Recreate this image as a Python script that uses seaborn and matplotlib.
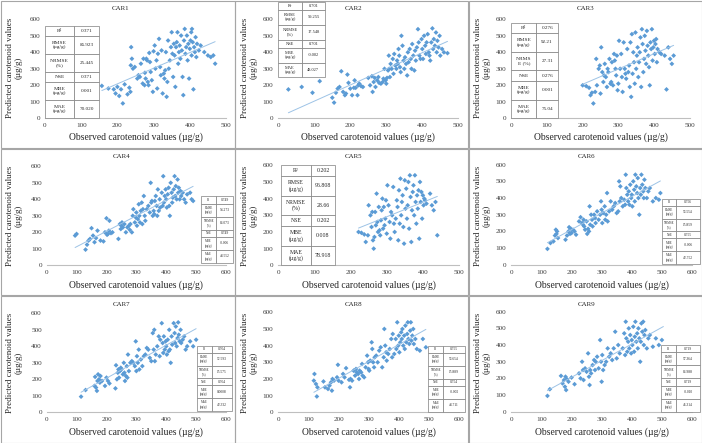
import numpy as np
import matplotlib
matplotlib.use("Agg")
import matplotlib.pyplot as plt
from matplotlib.patches import Rectangle
import seaborn as sns

# ~~~~~~~~~~~~~~~~~~~~~~~~~~~~~~~~ data ~~~~~~~~~~~~~~~~~~~~~~~~~~~~~~~~ #
car1_x = [157, 175, 190, 195, 200, 205, 210, 215, 220, 228, 233, 236, 237, 238, 240, 243, 248, 255, 258, 262,
          265, 270, 272, 275, 276, 278, 280, 282, 284, 286, 288, 290, 292, 295, 298, 300, 303, 305, 308, 310,
          312, 315, 318, 320, 322, 325, 328, 330, 332, 334, 336, 338, 340, 342, 345, 348, 350, 352, 354, 356,
          358, 360, 362, 364, 366, 368, 370, 372, 374, 376, 378, 380, 382, 384, 386, 388, 390, 392, 394, 396,
          398, 400, 402, 404, 405, 406, 408, 410, 412, 414, 416, 418, 420, 425, 430, 440, 450, 458, 465, 470]
car1_y = [196, 180, 175, 150, 190, 135, 175, 90, 205, 145, 185, 160, 320, 430, 360, 300, 310, 240, 260, 250,
          330, 210, 360, 200, 275, 240, 360, 350, 220, 200, 395, 340, 280, 230, 160, 405, 440, 300, 350, 180,
          390, 480, 310, 260, 410, 150, 270, 240, 290, 400, 130, 220, 470, 300, 350, 430, 520, 390, 250, 450,
          380, 190, 430, 460, 520, 330, 400, 440, 360, 500, 410, 250, 140, 470, 540, 390, 430, 500, 350, 450,
          240, 420, 470, 520, 380, 540, 460, 175, 430, 400, 490, 370, 450, 410, 440, 400, 380, 370, 380, 330]

car2_x = [28, 65, 95, 115, 150, 155, 160, 165, 170, 175, 180, 185, 188, 192, 195, 200, 205, 210, 212, 215,
          220, 222, 225, 230, 235, 250, 255, 260, 262, 265, 268, 270, 275, 278, 280, 285, 290, 292, 295, 298,
          300, 302, 305, 307, 308, 310, 312, 315, 318, 320, 322, 325, 328, 330, 332, 334, 336, 338, 340, 342,
          345, 348, 350, 352, 355, 358, 360, 362, 365, 368, 370, 372, 375, 378, 380, 382, 385, 388, 390, 392,
          395, 398, 400, 402, 405, 408, 410, 412, 415, 418, 420, 422, 425, 428, 430, 432, 435, 438, 440, 442,
          445, 448, 450, 455, 460, 470]
car2_y = [175, 190, 155, 225, 125, 95, 155, 180, 190, 285, 160, 140, 150, 265, 215, 180, 140, 185, 230, 185,
          140, 200, 210, 195, 190, 245, 200, 255, 160, 220, 245, 190, 230, 250, 215, 210, 220, 240, 300, 230,
          210, 245, 290, 380, 300, 250, 330, 300, 360, 270, 390, 320, 300, 350, 330, 420, 380, 310, 280, 500,
          440, 350, 300, 370, 330, 260, 400, 340, 420, 360, 300, 450, 380, 290, 410, 350, 430, 540, 460, 380,
          360, 480, 420, 360, 500, 440, 390, 460, 510, 400, 380, 350, 460, 545, 420, 480, 440, 520, 400, 470,
          430, 500, 380, 420, 400, 395]

car3_x = [200, 210, 218, 222, 226, 230, 235, 238, 240, 245, 248, 250, 252, 255, 258, 260, 262, 265, 268, 270,
          272, 275, 278, 280, 282, 285, 288, 290, 292, 294, 296, 298, 300, 302, 305, 308, 310, 312, 315, 318,
          320, 322, 325, 328, 330, 332, 334, 336, 338, 340, 342, 344, 346, 348, 350, 352, 354, 356, 358, 360,
          362, 364, 366, 368, 370, 372, 374, 376, 378, 380, 382, 384, 386, 388, 390, 392, 394, 396, 398, 400,
          402, 404, 406, 408, 410, 415, 420, 430, 435, 440, 445, 450, 455]
car3_y = [200, 195, 185, 140, 155, 90, 160, 360, 200, 300, 320, 150, 430, 280, 220, 260, 330, 250, 190, 300,
          280, 360, 210, 220, 340, 200, 390, 350, 300, 260, 380, 170, 210, 470, 300, 390, 250, 160, 460, 300,
          270, 240, 420, 280, 320, 190, 460, 130, 510, 270, 400, 340, 210, 520, 300, 380, 430, 250, 340, 400,
          490, 190, 540, 450, 280, 360, 500, 410, 330, 530, 440, 380, 310, 200, 460, 420, 540, 350, 430, 470,
          390, 450, 480, 340, 420, 400, 390, 380, 175, 430, 360, 330, 380]

car4_x = [95, 100, 130, 135, 140, 145, 150, 155, 160, 165, 170, 180, 190, 195, 200, 202, 205, 208, 210, 215,
          220, 240, 245, 248, 250, 252, 255, 260, 265, 270, 275, 278, 280, 285, 288, 290, 295, 298, 300, 302,
          305, 308, 310, 312, 315, 318, 320, 322, 325, 328, 330, 335, 340, 345, 348, 350, 352, 355, 358, 360,
          362, 365, 368, 370, 372, 375, 378, 380, 385, 388, 390, 392, 395, 398, 400, 402, 405, 408, 410, 412,
          415, 418, 420, 422, 425, 428, 430, 432, 435, 438, 440, 442, 445, 448, 450, 455, 460, 465, 470, 480,
          485, 490]
car4_y = [180, 190, 95, 125, 150, 160, 225, 180, 140, 165, 210, 150, 145, 200, 285, 185, 190, 210, 270, 195,
          200, 160, 250, 220, 240, 260, 230, 250, 200, 230, 240, 215, 250, 200, 300, 340, 260, 290, 320, 240,
          280, 370, 300, 260, 330, 380, 250, 340, 420, 300, 270, 340, 360, 320, 500, 380, 390, 300, 330, 310,
          390, 420, 360, 300, 460, 330, 400, 350, 440, 360, 540, 380, 420, 460, 400, 350, 430, 470, 360, 300,
          500, 440, 380, 410, 460, 540, 420, 480, 400, 520, 440, 470, 400, 450, 420, 440, 400, 380, 430, 440,
          400, 390]

car5_x = [222, 230, 238, 242, 248, 250, 255, 258, 260, 262, 264, 266, 268, 270, 272, 274, 276, 278, 280, 282,
          284, 286, 288, 290, 292, 294, 296, 298, 300, 302, 305, 308, 310, 312, 315, 318, 320, 322, 325, 328,
          330, 332, 334, 336, 338, 340, 342, 344, 346, 348, 350, 352, 354, 356, 358, 360, 362, 364, 366, 368,
          370, 372, 374, 376, 378, 380, 382, 384, 386, 388, 390, 392, 394, 396, 398, 400, 402, 404, 406, 410,
          420, 425, 430, 435, 440]
car5_y = [200, 195, 185, 140, 180, 360, 300, 230, 320, 150, 100, 170, 320, 240, 430, 260, 200, 350, 210, 180,
          270, 330, 400, 220, 350, 240, 280, 390, 190, 480, 360, 260, 160, 320, 300, 470, 250, 200, 280, 390,
          350, 150, 450, 250, 520, 300, 380, 420, 230, 130, 510, 340, 460, 280, 360, 500, 220, 540, 410, 140,
          330, 440, 480, 300, 540, 380, 250, 420, 340, 450, 160, 500, 380, 440, 280, 420, 360, 400, 390, 370,
          430, 360, 330, 380, 180]

car6_x = [120, 130, 140, 145, 148, 150, 152, 155, 180, 185, 190, 192, 195, 198, 200, 205, 210, 215, 225, 230,
          235, 238, 240, 242, 245, 250, 252, 255, 258, 260, 262, 265, 268, 270, 275, 278, 280, 285, 290, 295,
          298, 300, 302, 305, 310, 312, 315, 318, 320, 325, 330, 335, 340, 345, 350, 355, 358, 360, 362, 365,
          370, 375, 378, 380, 382, 385, 388, 390, 392, 395, 398, 400, 402, 405, 408, 410, 412, 415, 418, 420,
          422, 425, 428, 430, 432, 435, 438, 440, 442, 445, 450, 455, 460, 470, 480, 490, 495]
car6_y = [95, 130, 140, 175, 210, 185, 200, 160, 150, 175, 200, 225, 185, 215, 190, 210, 200, 180, 260, 285,
          250, 240, 270, 230, 210, 260, 185, 215, 200, 350, 240, 300, 270, 230, 300, 280, 250, 320, 270, 300,
          380, 330, 250, 310, 350, 270, 300, 430, 260, 320, 380, 330, 350, 370, 310, 320, 500, 380, 470, 400,
          350, 390, 360, 540, 460, 420, 380, 440, 360, 480, 400, 420, 350, 500, 450, 380, 540, 470, 430, 520,
          400, 300, 460, 420, 540, 480, 440, 400, 510, 460, 400, 440, 460, 380, 400, 390, 430]

car7_x = [115, 130, 160, 162, 165, 168, 170, 172, 175, 178, 180, 185, 195, 200, 205, 210, 230, 232, 235, 238,
          240, 242, 245, 248, 250, 255, 258, 260, 262, 265, 268, 270, 272, 275, 280, 285, 290, 295, 298, 300,
          302, 305, 308, 310, 315, 320, 325, 330, 335, 340, 345, 350, 355, 358, 360, 362, 365, 370, 375, 378,
          380, 385, 388, 390, 392, 395, 398, 400, 402, 405, 408, 410, 412, 415, 418, 420, 425, 428, 430, 432,
          435, 438, 440, 442, 445, 448, 450, 455, 460, 465, 470, 480, 490, 500]
car7_y = [95, 135, 160, 215, 150, 130, 190, 230, 200, 180, 220, 190, 160, 210, 190, 175, 145, 285, 200, 240,
          260, 210, 250, 270, 260, 230, 300, 240, 190, 220, 280, 210, 350, 250, 300, 310, 300, 280, 430, 250,
          340, 300, 380, 260, 320, 280, 340, 350, 390, 380, 330, 310, 480, 380, 500, 310, 350, 400, 460, 340,
          440, 540, 420, 360, 460, 380, 430, 400, 350, 440, 370, 500, 380, 300, 460, 410, 540, 480, 420, 520,
          400, 450, 545, 470, 430, 500, 420, 440, 460, 380, 400, 430, 400, 440]

car8_x = [118, 120, 125, 128, 130, 150, 155, 165, 170, 175, 178, 180, 185, 195, 198, 200, 210, 215, 220, 225,
          235, 238, 240, 245, 250, 255, 258, 260, 265, 268, 270, 275, 278, 280, 285, 290, 295, 298, 300, 302,
          305, 310, 312, 315, 318, 320, 325, 330, 335, 340, 345, 350, 352, 355, 358, 360, 365, 370, 375, 378,
          380, 385, 390, 392, 395, 398, 400, 402, 405, 408, 410, 412, 415, 418, 420, 422, 425, 428, 430, 432,
          435, 438, 440, 442, 445, 448, 450, 455, 460, 470, 480, 490]
car8_y = [190, 230, 170, 95, 150, 185, 150, 140, 160, 180, 130, 200, 190, 210, 285, 190, 180, 230, 210, 265,
          195, 150, 200, 190, 250, 220, 260, 240, 230, 200, 250, 240, 290, 220, 210, 270, 340, 300, 260, 250,
          310, 420, 380, 300, 270, 330, 340, 300, 370, 390, 270, 330, 500, 400, 360, 310, 350, 380, 440, 330,
          470, 350, 440, 380, 540, 400, 460, 360, 420, 480, 440, 500, 400, 460, 380, 520, 420, 470, 540, 440,
          410, 490, 540, 430, 460, 500, 410, 440, 380, 370, 440, 390]

car9_x = [120, 128, 165, 170, 175, 178, 180, 182, 185, 190, 200, 210, 225, 230, 235, 238, 240, 245, 250, 255,
          258, 260, 262, 265, 270, 275, 278, 280, 285, 290, 295, 298, 300, 302, 305, 310, 315, 320, 325, 330,
          335, 340, 345, 350, 355, 360, 370, 375, 378, 380, 382, 385, 388, 390, 392, 395, 398, 400, 402, 405,
          408, 410, 412, 415, 418, 420, 422, 425, 428, 430, 432, 435, 438, 440, 442, 445, 450, 455, 460, 470,
          480, 490, 500, 505]
car9_y = [95, 135, 215, 170, 190, 150, 210, 130, 195, 180, 205, 165, 230, 200, 300, 250, 190, 260, 240, 350,
          210, 160, 250, 230, 280, 310, 250, 300, 330, 260, 430, 300, 180, 340, 250, 280, 300, 380, 330, 350,
          310, 380, 480, 320, 400, 350, 380, 470, 340, 540, 440, 360, 420, 500, 380, 460, 350, 430, 400, 510,
          360, 450, 540, 420, 470, 380, 500, 440, 300, 420, 530, 480, 540, 400, 460, 490, 380, 440, 460, 390,
          440, 400, 430, 380]

names = ['CAR1', 'CAR2', 'CAR3', 'CAR4', 'CAR5', 'CAR6', 'CAR7', 'CAR8', 'CAR9']
xs = [car1_x, car2_x, car3_x, car4_x, car5_x, car6_x, car7_x, car8_x, car9_x]
ys = [car1_y, car2_y, car3_y, car4_y, car5_y, car6_y, car7_y, car8_y, car9_y]

stat_labels = ['R\u00b2', 'RMSE\n(\u00b5g/g)', 'NRMSE\n(%)', 'NSE', 'MBE\n(\u00b5g/g)', 'MAE\n(\u00b5g/g)']
stat_labels_car3 = ['R\u00b2', 'RMSE\n(\u00b5g/g)', 'NRMS\nE (%)', 'NSE', 'MBE\n(\u00b5g/g)', 'MAE\n(\u00b5g/g)']
stats = [['0.371', '85.923', '25.445', '0.371', '0.001', '70.020'],
         ['0.701', '59.255', '17.548', '0.701', '-0.002', '48.027'],
         ['0.276', '92.21', '27.31', '0.276', '0.001', '75.04'],
         ['0.749', '54.273', '16.073', '0.749', '-0.006', '43.552'],
         ['0.202', '96.808', '28.66', '0.202', '0.008', '78.918'],
         ['0.756', '53.554', '15.859', '0.755', '-0.006', '42.752'],
         ['0.764', '52.593', '15.575', '0.764', '0.0008', '42.332'],
         ['0.755', '53.654', '15.889', '0.754', '-0.002', '43.711'],
         ['0.719', '57.364', '16.988', '0.719', '-0.010', '45.314']]

# ~~~~~~~~~~~~~~~~~~~~~~~~~~~~~~~~ layout (pixels) ~~~~~~~~~~~~~~~~~~~~~~~~~~~~~~~~ #
W, H = 702, 443
col_x = [0, 235, 468]
col_w = [235, 233, 234]
row_y = [0, 148, 295]
row_h = [148, 147, 148]
# axes box inside panel: left, right, top, bottom, xmax
ax_box = [(45, 226, 19, 118.3, 500), (43.3, 223.3, 19.3, 118.3, 500), (43.3, 221.7, 19.3, 118.3, 500),
          (46.7, 226, 18.3, 117.3, 600), (43.3, 224, 17.3, 117.3, 500), (43.3, 224, 16.7, 116.7, 600),
          (46.7, 226, 18.3, 117.3, 600), (43.3, 224, 17.3, 117.3, 600), (43.3, 224, 16.7, 116.7, 600)]
# table box in data coords: x0, xsplit, x1, ybottom, ytop, label size, value size
tab_box = [(0, 80, 150, 0, 560, 3.9, 3.7), (0, 65, 130, 248, 707, 3.2, 3.2), (0, 70, 131, 0, 580, 3.9, 3.7),
           (518, 566, 624, 14, 418, 2.2, 2.6), (7, 90, 157, 0, 600, 4.2, 4.2), (502, 548, 626, 4, 396, 2.2, 2.6),
           (502, 552, 619, 8, 404, 2.2, 2.6), (498, 548, 620, 4, 400, 2.2, 2.6), (498, 548, 626, 0, 400, 2.2, 2.6)]

sns.set_theme(style="white")
plt.rcParams['font.family'] = ['Liberation Serif', 'DejaVu Serif']

fig = plt.figure(figsize=(W / 100, H / 100), dpi=100)


def fx(px):
    return px / W


def fy(py):
    return 1 - py / H


def draw_table(ax, labels, values, box):
    x0, xm, x1, yb, yt, fsl, fsv = box
    weights = [1, 1.8, 1.8, 1, 1.8, 1.8]
    unit = (yt - yb) / sum(weights)
    top = yt
    for lab, val, w in zip(labels, values, weights):
        h = w * unit
        for (a, b, t) in [(x0, xm, lab), (xm, x1, val)]:
            ax.add_patch(Rectangle((a, top - h), b - a, h, facecolor='white', edgecolor='#7f7f7f',
                                   lw=0.5, clip_on=False, zorder=5))
            ax.text((a + b) / 2, top - h / 2, t, ha='center', va='center', fontsize=fsl if t == lab else fsv,
                    color='#262626', zorder=6, clip_on=False, linespacing=1.1)
        top -= h


for i, name in enumerate(names):
    r, c = divmod(i, 3)
    px0, py0 = col_x[c], row_y[r]
    # panel frame
    fig.patches.append(Rectangle((fx(px0 + 0.5), fy(py0 + row_h[r] - 0.5)), (col_w[c] - 1) / W, (row_h[r] - 1) / H,
                                 transform=fig.transFigure, fill=False, edgecolor='#a6a6a6', lw=0.8))
    l, rr, t, b, xmax = ax_box[i]
    ax = fig.add_axes([fx(px0 + l), fy(py0 + b), (rr - l) / W, (b - t) / H])
    ax.set_facecolor('none')

    sns.regplot(x=np.array(xs[i]), y=np.array(ys[i]), ax=ax, scatter=False, ci=None,
                color='#9dc3e6', line_kws=dict(lw=0.7))
    sns.scatterplot(x=xs[i], y=ys[i], ax=ax, marker='D', s=6, color='#5b9bd5', edgecolor='none', linewidth=0)

    ax.set_xlim(0, xmax)
    ax.set_ylim(0, 600)
    ax.set_xticks(np.arange(0, xmax + 1, 100))
    ax.set_yticks(np.arange(0, 601, 100))
    ax.tick_params(length=0, labelsize=5.2, colors='#404040', pad=3.5)
    ax.set_xlabel('')
    ax.set_ylabel('')
    for s in ['top', 'right', 'left']:
        ax.spines[s].set_visible(False)
    ax.spines['bottom'].set_color('#bfbfbf')
    ax.spines['bottom'].set_linewidth(0.8)
    ax.grid(False)

    labs = stat_labels_car3 if name == 'CAR3' else stat_labels
    draw_table(ax, labs, stats[i], tab_box[i])

    # title and axis labels
    fig.text(fx(px0 + (l + rr) / 2 - 15), fy(py0 + 9), name, ha='center', va='center', fontsize=5, color='#262626')
    fig.text(fx(px0 + (l + rr) / 2), fy(py0 + 137), 'Observed carotenoid values (\u00b5g/g)',
             ha='center', va='center', fontsize=6.9, color='#262626')
    fig.text(fx(px0 + 14), fy(py0 + 68), 'Predicted carotenoid values\n(\u00b5g/g)', rotation=90,
             ha='center', va='center', fontsize=6.5, color='#262626', multialignment='center', linespacing=1.15)

plt.savefig('out.png', dpi=100)
